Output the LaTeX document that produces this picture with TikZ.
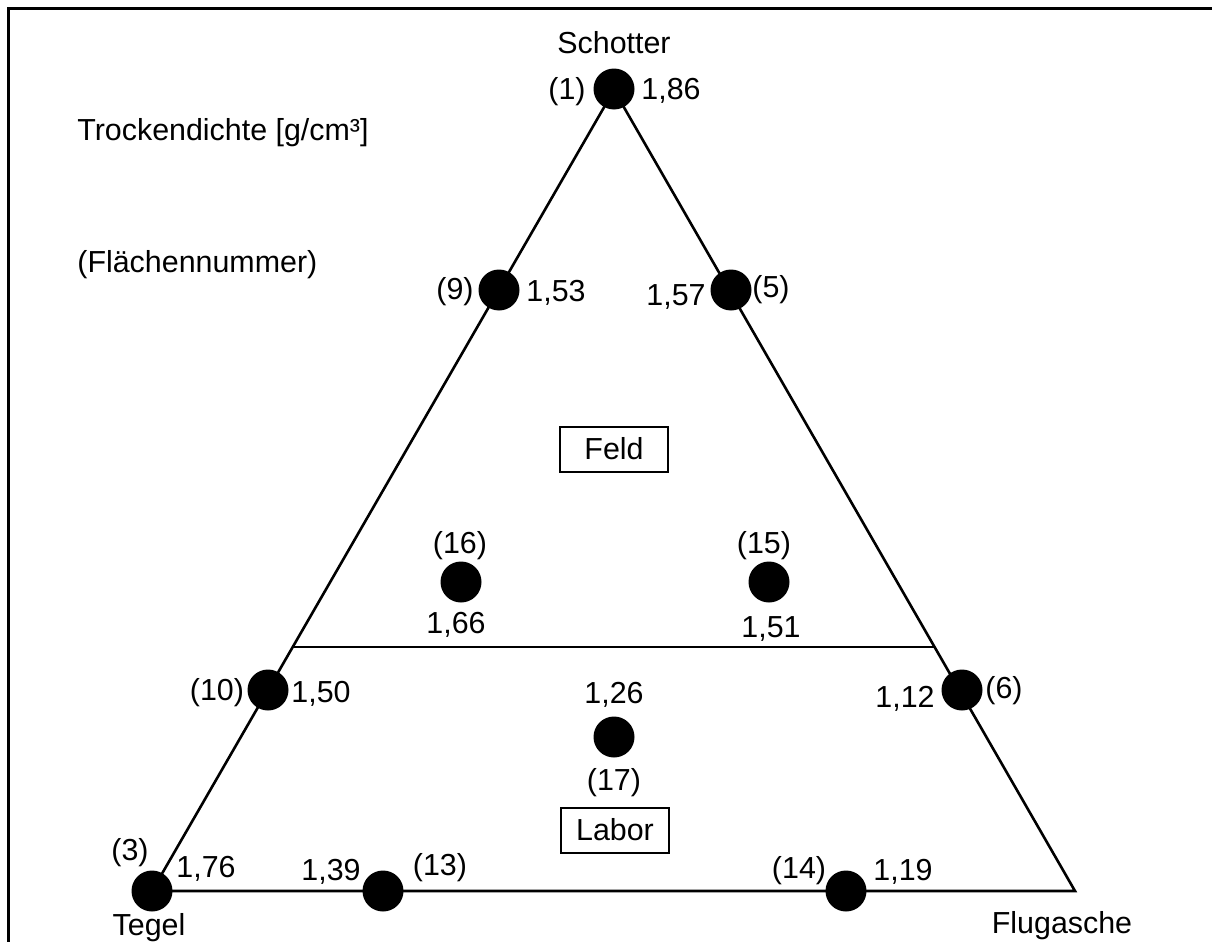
\documentclass[tikz,border=0pt]{standalone}
\usepackage{fontspec}
\setmainfont{Liberation Sans}
\begin{document}
\begin{tikzpicture}[x=0.5pt,y=-0.5pt,
  dot/.style={circle,fill=black,inner sep=0pt,minimum size=20.5pt},
  lbl/.style={anchor=base,inner sep=0pt,font=\fontsize{15.2}{18}\selectfont},
  lblw/.style={anchor=base west,inner sep=0pt,font=\fontsize{15.2}{18}\selectfont},
  edge/.style={line width=1.3pt},
  frame/.style={line width=1.6pt},
  tagbox/.style={draw,line width=1pt,minimum width=54pt,minimum height=22.5pt,inner sep=0pt,font=\fontsize{15.2}{18}\selectfont}]
\useasboundingbox (0,0) rectangle (1212,942);
\draw[frame] (8.5,942) -- (8.5,8.5) -- (1212,8.5);
% vertices and points
\coordinate (A) at (614,90);
\coordinate (T) at (152,891);
\coordinate (F) at (1075,891);
\coordinate (hl) at (293,647);
\coordinate (hr) at (934,647);
\draw[edge] (A) -- (T) -- (F) -- cycle;
\draw[edge] (hl) -- (hr);
% dots
\node[dot] (d1) at (614,89) {};
\node[dot] (d9) at (499,290) {};
\node[dot] (d5) at (731,290) {};
\node[dot] (d16) at (461,582) {};
\node[dot] (d15) at (769,582) {};
\node[dot] (d10) at (268,690) {};
\node[dot] (d6) at (962,690) {};
\node[dot] (d17) at (614,737) {};
\node[dot] (d3) at (152,891) {};
\node[dot] (d13) at (383,891) {};
\node[dot] (d14) at (846,891) {};
% boxes
\node[tagbox] (feld) at (614,449) {Feld};
\node[tagbox] (labor) at (615,830) {Labor};
% texts
\node[lbl] (schotter) at (614,54) {Schotter};
\node[lblw] (trocken) at (77,140) {Trockendichte [g/cm³]};
\node[lblw] (flaeche) at (77,272) {(Flächennummer)};
\node[lbl] (n1) at (567,99) {(1)};
\node[lbl] (v1) at (671,99) {1,86};
\node[lbl] (n9) at (455,299) {(9)};
\node[lbl] (v9) at (556,301) {1,53};
\node[lbl] (v5) at (676,305) {1,57};
\node[lbl] (n5) at (771,297) {(5)};
\node[lbl] (n16) at (460,553) {(16)};
\node[lbl] (v16) at (456,633) {1,66};
\node[lbl] (n15) at (764,553) {(15)};
\node[lbl] (v15) at (771,637) {1,51};
\node[lbl] (n10) at (217,700) {(10)};
\node[lbl] (v10) at (321,702) {1,50};
\node[lbl] (v6) at (905,707) {1,12};
\node[lbl] (n6) at (1004,698) {(6)};
\node[lbl] (v17) at (614,703) {1,26};
\node[lbl] (n17) at (614,790) {(17)};
\node[lbl] (n3) at (130,860) {(3)};
\node[lbl] (v3) at (206,877) {1,76};
\node[lbl] (tegel) at (149,935) {Tegel};
\node[lbl] (v13) at (331,880) {1,39};
\node[lbl] (n13) at (440,875) {(13)};
\node[lbl] (n14) at (799,878) {(14)};
\node[lbl] (v14) at (903,880) {1,19};
\node[lbl] (flug) at (1062,933) {Flugasche};
\end{tikzpicture}
\end{document}
